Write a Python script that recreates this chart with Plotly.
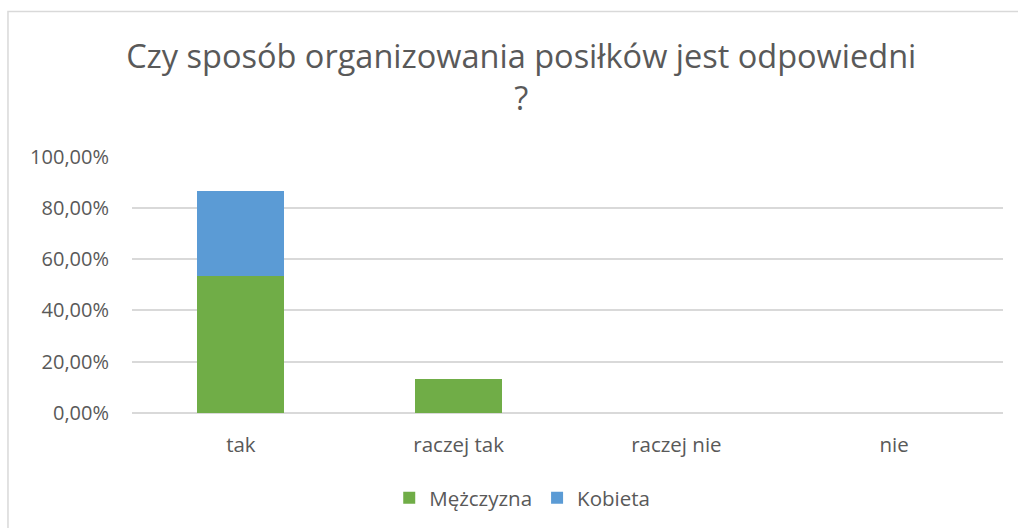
import plotly.graph_objects as go

categories = ["tak", "raczej tak", "raczej nie", "nie"]
men = [0.5333, 0.1333, 0, 0]
women = [0.3333, 0, 0, 0]
series_names = ["Mężczyzna", "Kobieta"]
title_text = "Czy sposób organizowania posiłków jest odpowiedni<br>?"

font_family = "Open Sans, Liberation Sans, sans-serif"
text_color = "#595959"
grid_color = "#d9d9d9"

fig = go.Figure()
fig.add_trace(go.Bar(x=categories, y=men, name=series_names[0], marker_color="#70AD47",
                     marker_line_width=0))
fig.add_trace(go.Bar(x=categories, y=women, name=series_names[1], marker_color="#5B9BD5",
                     marker_line_width=0))

# light grey frame round the whole chart, like the office chart area
fig.add_shape(type="rect", xref="paper", yref="paper",
              x0=-0.1424, x1=1.2, y0=-1.0, y1=1.562,
              line=dict(color=grid_color, width=1.5), layer="below")

fig.update_layout(
    barmode="stack",
    bargap=0.6,
    width=1018, height=528,
    margin=dict(l=132, r=15, t=156, b=115),
    paper_bgcolor="white", plot_bgcolor="white",
    separators=", ",
    font=dict(family=font_family, color=text_color, size=17),
    title=dict(text=title_text, x=0.512, xanchor="center", xref="container",
               y=0.872, yanchor="middle", yref="container",
               font=dict(size=32.5, color=text_color, family=font_family)),
    legend=dict(orientation="h", xref="container", yref="container",
                x=0.513, xanchor="center", y=0.057, yanchor="middle",
                font=dict(size=20.5), itemwidth=30, traceorder="normal"),
    xaxis=dict(showgrid=False, showline=False, ticks="", ticklabelstandoff=17,
               tickfont=dict(size=20.5)),
    yaxis=dict(range=[0, 1.002], dtick=0.2, tickformat=".2%", showgrid=True,
               gridcolor=grid_color, gridwidth=1.5, zeroline=True,
               zerolinecolor=grid_color, zerolinewidth=1.5, showline=False,
               ticks="", ticklabelstandoff=22, tickfont=dict(size=20)),
)

# page body has a default 8px margin, drop it so the figure sits at 0,0
fig.write_html("out.html", config={"displayModeBar": False},
               post_script="document.body.style.margin='0';")
